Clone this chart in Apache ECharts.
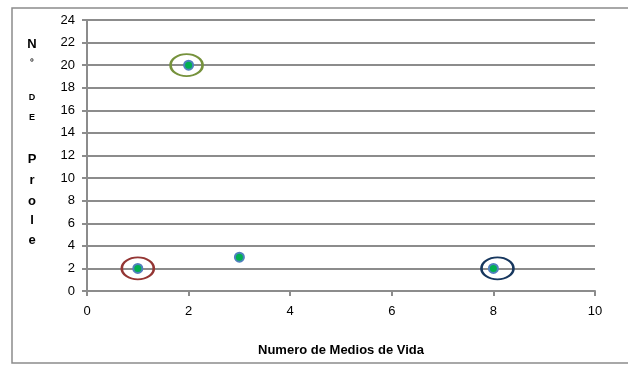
<!DOCTYPE html>
<html><head><meta charset="utf-8">
<script src="https://cdn.jsdelivr.net/npm/echarts@6/dist/echarts.min.js"></script>
<style>html,body{margin:0;padding:0;background:#fff}#c{width:628px;height:365px}</style>
</head><body><div id="c"></div>
<script>
const xValues = [1, 2, 3, 8];
const yValues = [2, 20, 3, 2];
const ringCenters = [[1, 2], [1.96, 20], [8.08, 2]];
const ringColors = ['#943634', '#76923c', '#17375e'];
const xTitle = 'Numero de Medios de Vida';
const yTitleLetters = ['N', 'º', 'D', 'E', 'P', 'r', 'o', 'l', 'e'];
const yTitleSmall = [false, true, true, true, false, false, false, false, false];
const yTitleY = [44, 63, 98, 118, 159, 180, 201, 220, 240];

const chart = echarts.init(document.getElementById('c'));
const font = 'Liberation Sans';
const graphics = [{
  type: 'rect', shape: {x: 12, y: 8, width: 640, height: 355},
  style: {fill: 'none', stroke: '#8c8c8c', lineWidth: 1.5}, silent: true
}];
yTitleLetters.forEach((t, i) => {
  graphics.push({type: 'text', x: 32, y: yTitleY[i],
    style: {text: t, font: 'bold ' + (yTitleSmall[i] ? 9 : 13) + 'px ' + font,
      fill: '#000', textAlign: 'center', textVerticalAlign: 'middle'}});
});
chart.setOption({
  animation: false,
  grid: {left: 87, top: 20, width: 508, height: 271},
  graphic: graphics,
  xAxis: {
    type: 'value', min: 0, max: 10, interval: 2,
    name: xTitle, nameLocation: 'middle', nameGap: 53,
    nameTextStyle: {fontFamily: font, fontWeight: 'bold', fontSize: 13, color: '#000'},
    axisLine: {show: true, lineStyle: {color: '#8c8c8c', width: 2}},
    axisTick: {show: true, length: 5, lineStyle: {color: '#8c8c8c', width: 2}},
    axisLabel: {fontFamily: font, fontSize: 13, color: '#000', margin: 14},
    splitLine: {show: false}
  },
  yAxis: {
    type: 'value', min: 0, max: 24, interval: 2,
    axisLine: {show: true, lineStyle: {color: '#8c8c8c', width: 2}},
    axisTick: {show: true, length: 5, lineStyle: {color: '#8c8c8c', width: 2}},
    axisLabel: {fontFamily: font, fontSize: 13, color: '#000', margin: 12},
    splitLine: {show: true, lineStyle: {color: '#8c8c8c', width: 2}}
  },
  series: [
    {
      type: 'scatter', symbol: 'circle', symbolSize: [32, 22], silent: true,
      data: ringCenters.map((p, i) => ({value: p,
        itemStyle: {color: 'rgba(0,0,0,0)', borderColor: ringColors[i], borderWidth: 2.2, opacity: 1}})),
      z: 3
    },
    {
      type: 'scatter', symbol: 'circle', symbolSize: 9,
      data: xValues.map((x, i) => [x, yValues[i]]),
      itemStyle: {color: '#00b050', borderColor: '#4f81bd', borderWidth: 2, opacity: 1},
      z: 4
    }
  ]
});
</script></body></html>
